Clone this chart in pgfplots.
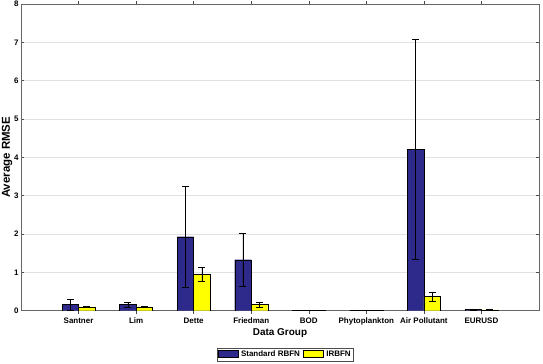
\documentclass[border=0pt]{standalone}
\usepackage{fontspec}
\setmainfont{Liberation Sans}
\usepackage{pgfplots}
\pgfplotsset{compat=1.18}
\definecolor{rbfn}{RGB}{46,42,140}
\definecolor{irbfn}{RGB}{255,255,0}
\begin{document}
\begin{tikzpicture}
% fixed page frame around the axis box (axis south west corner sits at the origin)
\useasboundingbox (-21bp,-53.3bp) rectangle (522bp,310.7bp);
\begin{axis}[
  scale only axis,
  width=518bp, height=306.7bp,
  xmin=0, xmax=9, ymin=0, ymax=8,
  xtick={1,...,8},
  xticklabels={Santner,Lim,Dette,Friedman,BOD,Phytoplankton,Air Pollutant,EURUSD},
  ytick={0,...,8},
  ymajorgrids,
  grid style={black!12, line width=0.5bp},
  tick align=inside, tick pos=both,
  major tick length=3bp,
  tick style={black!70, line width=0.5bp},
  axis line style={black!60, line width=0.6bp},
  /pgf/number format/assume math mode=true,
  ticklabel style={font=\fontsize{8}{9}\selectfont\bfseries},
  yticklabel style={xshift=1bp},
  xticklabel style={yshift=-1bp},
  xlabel={Data Group}, ylabel={Average RMSE},
  xlabel style={yshift=4bp, font=\fontsize{10}{11}\selectfont\bfseries},
  ylabel style={yshift=-5bp, font=\fontsize{11.5}{12}\selectfont\bfseries},
  ybar=0pt, bar width=16.5bp,
  legend style={at={(0.51,-0.1216)}, anchor=north, legend columns=2,
    draw=black!70, font=\fontsize{8}{8.5}\selectfont\bfseries,
    inner sep=0.8bp, column sep=1bp},
  legend image code/.code={\draw[#1] (0bp,-3bp) rectangle (20bp,4bp);},
  error bars/y dir=both, error bars/y explicit,
  error bars/error bar style={black, line width=0.5bp},
  error bars/error mark options={black, mark size=3.5bp, line width=0.5bp, rotate=90},
]
\addplot[fill=rbfn, draw=black, line width=0.4bp] coordinates {
  (1,0.16) +- (0,0.14)
  (2,0.16) +- (0,0.06)
  (3,1.93) +- (0,1.32)
  (4,1.33) +- (0,0.70)
  (5,0.012) +- (0,0.004)
  (6,0.006) +- (0,0.002)
  (7,4.20) +- (0,2.87)
  (8,0.030) +- (0,0.008)
};
\addplot[fill=irbfn, draw=black, line width=0.4bp] coordinates {
  (1,0.10) +- (0,0.02)
  (2,0.10) +- (0,0.01)
  (3,0.95) +- (0,0.18)
  (4,0.16) +- (0,0.07)
  (5,0.010) +- (0,0.003)
  (6,0.005) +- (0,0.002)
  (7,0.37) +- (0,0.12)
  (8,0.020) +- (0,0.006)
};
\legend{Standard RBFN, IRBFN}
\end{axis}
\end{tikzpicture}
\end{document}
